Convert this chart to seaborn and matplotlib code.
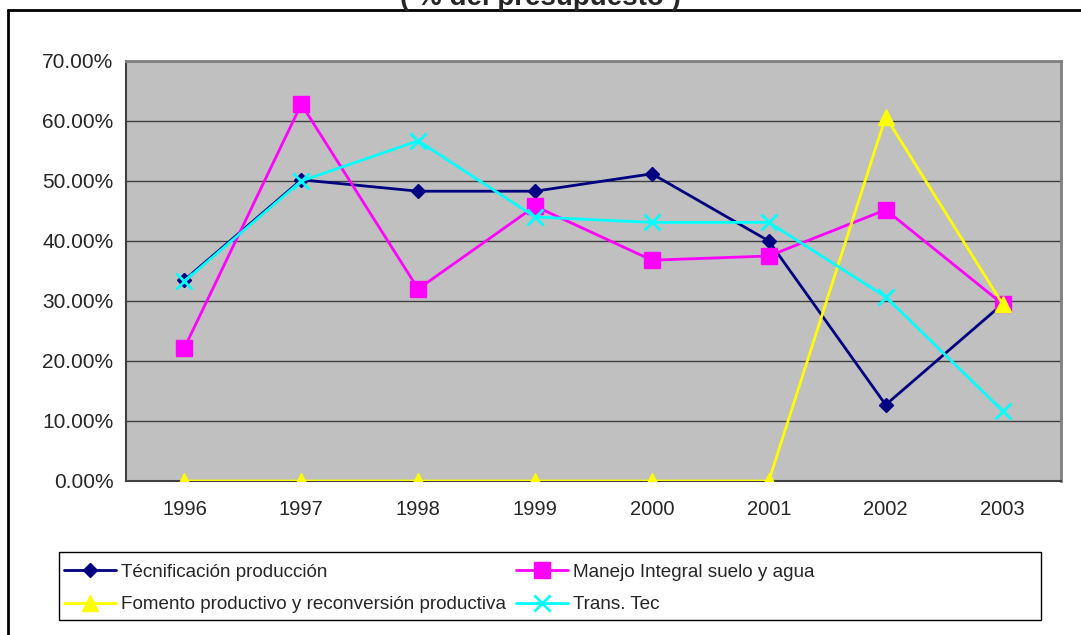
import matplotlib

matplotlib.use("Agg")
import matplotlib.pyplot as plt
import pandas as pd
import seaborn as sns
from matplotlib.lines import Line2D
from matplotlib.patches import Rectangle
from matplotlib.ticker import FuncFormatter

# datos (porcentaje del presupuesto)
years = ["1996", "1997", "1998", "1999", "2000", "2001", "2002", "2003"]
tecnificacion = [33.5, 50.2, 48.3, 48.3, 51.2, 40.0, 12.7, 29.5]
manejo = [22.2, 62.8, 32.0, 45.8, 36.8, 37.5, 45.2, 29.5]
fomento = [0.0, 0.0, 0.0, 0.0, 0.0, 0.0, 60.7, 29.5]
trans_tec = [33.3, 50.0, 56.7, 44.0, 43.1, 43.1, 30.7, 11.7]

series_names = [
    "Técnificación producción",
    "Manejo Integral suelo y agua",
    "Fomento productivo y reconversión productiva",
    "Trans. Tec",
]
series_values = [tecnificacion, manejo, fomento, trans_tec]
colors = ["#000080", "#FF00FF", "#FFFF00", "#00FFFF"]
markers = ["D", "s", "^", "x"]
marker_sizes = [7, 11, 11, 11]

sns.set_theme(style="white")
plt.rcParams["font.family"] = ["Liberation Sans", "DejaVu Sans"]

rows = []
for name, vals in zip(series_names, series_values):
    for i, v in enumerate(vals):
        rows.append({"serie": name, "pos": i, "valor": v})
df = pd.DataFrame(rows)

W, H = 1081, 635
fig = plt.figure(figsize=(W / 100, H / 100), dpi=100)
ax = fig.add_axes([126 / W, 1 - 481 / H, 935 / W, 420 / H])
ax.set_facecolor("#C0C0C0")

handles = []
for name, col, mk, ms in zip(series_names, colors, markers, marker_sizes):
    sub = df[df["serie"] == name]
    sns.lineplot(
        data=sub, x="pos", y="valor", ax=ax, color=col, linewidth=2,
        marker=mk, markersize=ms, markeredgecolor=col,
        markeredgewidth=2 if mk == "x" else 1, legend=False, zorder=3,
    )
    handles.append(Line2D([0], [0], color=col, linewidth=2, marker=mk,
                          markersize=ms, markeredgecolor=col,
                          markeredgewidth=2 if mk == "x" else 1))

ax.set_xlim(-0.5, len(years) - 0.5)
ax.set_ylim(0, 70)
ax.set_yticks(range(0, 71, 10))
ax.yaxis.set_major_formatter(FuncFormatter(lambda v, p: f"{v:.2f}%"))
ax.set_xticks([i - 0.5 for i in range(len(years) + 1)])
ax.set_xticklabels([])
ax.set_xticks(range(len(years)), minor=True)
ax.set_xticklabels(years, minor=True)
ax.tick_params(axis="x", which="major", length=6, width=1, color="black", direction="out")
ax.tick_params(axis="x", which="minor", length=0, pad=14, labelsize=14.5)
ax.tick_params(axis="y", length=6, width=1, color="black", direction="out", labelsize=15, pad=3)
ax.grid(axis="y", color="#404040", linewidth=1)
ax.set_axisbelow(True)
ax.set_xlabel("")
ax.set_ylabel("")
for side in ["top", "right"]:
    ax.spines[side].set_color("#808080")
    ax.spines[side].set_linewidth(2)
for side in ["left", "bottom"]:
    ax.spines[side].set_color("#404040")
    ax.spines[side].set_linewidth(1.5)

# marco de la leyenda
fig.add_artist(Rectangle((59 / W, 1 - 620 / H), 982 / W, 68 / H, transform=fig.transFigure,
                         fill=False, edgecolor="black", linewidth=1))

# leyenda en dos columnas (orden por columna)
order = [0, 2, 1, 3]
leg = fig.legend(
    [handles[i] for i in order], [series_names[i] for i in order],
    ncol=2, loc="upper left", bbox_to_anchor=(53 / W, 1 - 552 / H),
    fontsize=13.6, handlelength=2.75, handletextpad=0.27, borderaxespad=0,
    borderpad=0.6, columnspacing=0.5, labelspacing=0.82, frameon=False,
)

# título cortado en la parte superior
fig.text(0.5, 1 - 5 / H, "( % del presupuesto )", ha="center", va="baseline",
         fontsize=20, fontweight="bold")

# borde del área del gráfico
fig.add_artist(Line2D([8 / W, 8 / W], [0, 1 - 10 / H], color="black", linewidth=2))
fig.add_artist(Line2D([8 / W, 1], [1 - 10 / H, 1 - 10 / H], color="black", linewidth=2))

fig.savefig("out.png", dpi=100, facecolor="white")
plt.close(fig)
